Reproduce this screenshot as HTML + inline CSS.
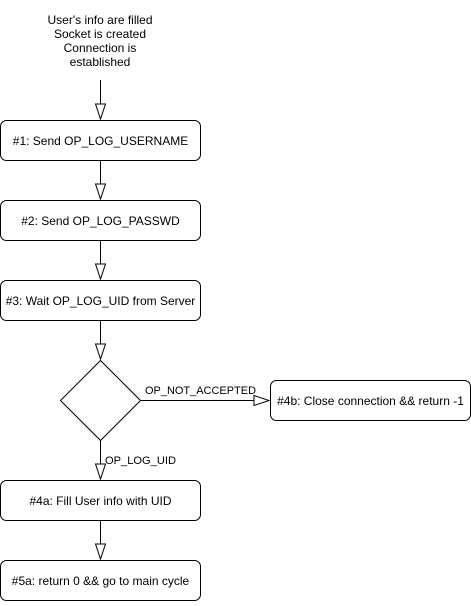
<!DOCTYPE html>
<html><head><meta charset="utf-8"><style>
html,body{margin:0;padding:0;background:#fff;}
svg text{font-family:"Liberation Sans",Arial,sans-serif;font-size:12px;fill:#000;}
</style></head><body>
<svg width="471" height="601" viewBox="0 0 471 601" xmlns="http://www.w3.org/2000/svg">
<g text-anchor="middle">
<text x="100" y="24">User's info are filled</text>
<text x="100" y="38">Socket is created</text>
<text x="100" y="52">Connection is</text>
<text x="100" y="66">established</text>
</g>
<g fill="#fff" stroke="#000" stroke-width="1">
<rect x="0.5" y="120.5" width="200" height="40" rx="6"/>
<rect x="0.5" y="200.5" width="200" height="40" rx="6"/>
<rect x="0.5" y="280.5" width="200" height="40" rx="6"/>
<polygon points="100.5,360.5 140.5,400.5 100.5,440.5 60.5,400.5"/>
<rect x="270.5" y="380.5" width="200" height="40" rx="6"/>
<rect x="0.5" y="480.5" width="200" height="40" rx="6"/>
<rect x="0.5" y="560.5" width="200" height="40" rx="6"/>
</g>
<g stroke="#000" fill="none">
<path d="M100.5 80V104M100.5 160V184M100.5 240V264M100.5 320V344M100.5 440V464M100.5 520V544M140.5 400.5H254"/>
</g>
<g fill="#fff" stroke="#000">
<polygon points="95.5,104 105.5,104 100.5,119"/>
<polygon points="95.5,184 105.5,184 100.5,199"/>
<polygon points="95.5,264 105.5,264 100.5,279"/>
<polygon points="95.5,344 105.5,344 100.5,359"/>
<polygon points="95.5,464 105.5,464 100.5,479"/>
<polygon points="95.5,544 105.5,544 100.5,559"/>
<polygon points="254,395.5 254,405.5 269,400.5"/>
</g>
<g text-anchor="middle">
<text x="100.5" y="145">#1: Send OP_LOG_USERNAME</text>
<text x="100.5" y="225">#2: Send OP_LOG_PASSWD</text>
<text x="100.5" y="305">#3: Wait OP_LOG_UID from Server</text>
<text x="370.5" y="405">#4b: Close connection &amp;&amp; return -1</text>
<text x="100.5" y="505">#4a: Fill User info with UID</text>
<text x="100.5" y="585">#5a: return 0 &amp;&amp; go to main cycle</text>
</g>
<text x="145" y="394" style="font-size:10.6px" textLength="111" lengthAdjust="spacingAndGlyphs">OP_NOT_ACCEPTED</text>
<text x="105" y="464" style="font-size:10.6px" textLength="71" lengthAdjust="spacingAndGlyphs">OP_LOG_UID</text>
</svg>
</body></html>
